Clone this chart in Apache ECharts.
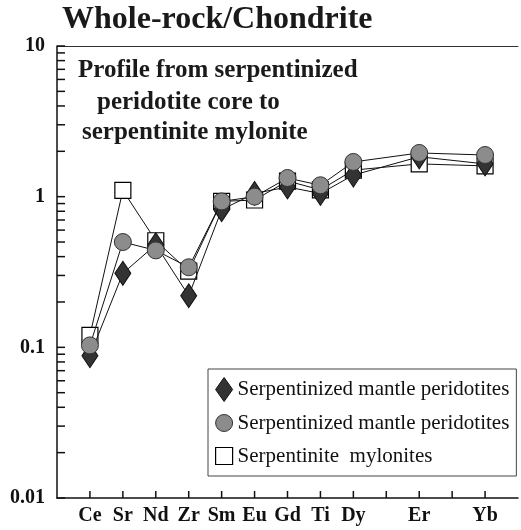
<!DOCTYPE html>
<html>
<head>
<meta charset="utf-8">
<script src="https://cdn.jsdelivr.net/npm/echarts@6/dist/echarts.min.js"></script>
<style>
html,body{margin:0;padding:0;background:#fff;}
#c{width:521px;height:530px;}
</style>
</head>
<body>
<div id="c"></div>
<script>
// Element order on the x axis (Ho and Tm have ticks but no label / no data)
var categories = ['Ce','Sr','Nd','Zr','Sm','Eu','Gd','Ti','Dy','Ho','Er','Tm','Yb'];
var tickLabels = ['Ce','Sr','Nd','Zr','Sm','Eu','Gd','Ti','Dy','','Er','','Yb'];

var nameDiamond = 'Serpentinized mantle peridotites';
var nameCircle  = 'Serpentinized mantle peridotites ';
var nameSquare  = 'Serpentinite  mylonites';

// Chondrite-normalized values (null = no data)
var diamondValues = [0.088, 0.31, 0.48, 0.22, 0.82, 1.05, 1.16, 1.05, 1.39, null, 1.84, null, 1.65];
var circleValues  = [0.103, 0.50, 0.44, 0.34, 0.93, 1.00, 1.33, 1.19, 1.70, null, 1.95, null, 1.89];
var squareValues  = [0.120, 1.10, 0.51, 0.32, 0.93, 0.95, 1.27, 1.11, 1.50, null, 1.65, null, 1.60];

// log-axis tick positions (1..9 within each decade, plus 10)
var yTickValues = [];
[0.01, 0.1, 1].forEach(function (d) {
  for (var k = 1; k <= 9; k++) yTickValues.push(+(d * k).toPrecision(3));
});
yTickValues.push(10);

function toPairs(vals) {
  var out = [];
  vals.forEach(function (v, i) { if (v != null) out.push([i + 1, v]); });
  return out;
}

var axisCats = ['pad0'].concat(categories).concat(['pad1']);
var labelMap = {};
categories.forEach(function (c, i) { labelMap[c] = tickLabels[i]; });

var serif = '"Liberation Serif", "DejaVu Serif", serif';
var tickColor = '#111';

var chart = echarts.init(document.getElementById('c'), null, {renderer: 'canvas'});
chart.setOption({
  animation: false,
  backgroundColor: '#fff',
  grid: {left: 57, top: 46, right: -4, bottom: 32},
  graphic: [
    {type: 'text', left: 62, top: 4, style: {text: 'Whole-rock/Chondrite', font: 'bold 32px ' + serif, fill: '#1a1a1a'}},
    {type: 'text', left: 78, top: 58, style: {text: 'Profile from serpentinized', font: 'bold 25px ' + serif, fill: '#1a1a1a'}},
    {type: 'text', left: 97, top: 90, style: {text: 'peridotite core to', font: 'bold 25px ' + serif, fill: '#1a1a1a'}},
    {type: 'text', left: 82, top: 120, style: {text: 'serpentinite mylonite', font: 'bold 25px ' + serif, fill: '#1a1a1a'}}
  ],
  xAxis: [{
    type: 'category',
    data: axisCats,
    boundaryGap: false,
    axisLine: {show: true, lineStyle: {color: '#111', width: 1.5}},
    axisTick: {show: false},
    axisLabel: {
      interval: 0, margin: 8,
      fontFamily: serif, fontWeight: 'bold', fontSize: 20, color: '#111',
      formatter: function (n) { return labelMap[n] || ''; }
    },
    splitLine: {show: false}
  }, {
    type: 'category',
    position: 'top',
    data: axisCats,
    boundaryGap: false,
    axisLine: {show: true, lineStyle: {color: '#333', width: 1}},
    axisTick: {show: false},
    axisLabel: {show: false},
    splitLine: {show: false}
  }],
  yAxis: {
    type: 'log',
    logBase: 10,
    min: 0.01,
    max: 10,
    axisLine: {show: true, lineStyle: {color: '#111', width: 1.5}},
    axisTick: {show: false},
    axisLabel: {
      margin: 12,
      fontFamily: serif, fontWeight: 'bold', fontSize: 20, color: '#111',
      formatter: function (v) { return String(+(+v).toPrecision(3)); }
    },
    splitLine: {show: false}
  },
  legend: {
    orient: 'vertical',
    left: 208, top: 369,
    padding: [8, 7],
    itemGap: 9,
    itemWidth: 17, itemHeight: 24,
    backgroundColor: '#fff',
    borderColor: '#444', borderWidth: 1,
    selectedMode: false,
    textStyle: {fontFamily: serif, fontSize: 21, color: '#111', lineHeight: 24},
    formatter: function (n) { return n.replace(/\s+$/, ''); },
    data: [
      {name: nameDiamond, icon: 'diamond', itemStyle: {color: '#333', borderColor: '#111', borderWidth: 1}},
      {name: nameCircle, icon: 'circle', itemStyle: {color: '#8c8c8c', borderColor: '#333', borderWidth: 1}},
      {name: nameSquare, icon: 'path://M0,0H10V10H0Z', itemStyle: {color: '#fff', borderColor: '#000', borderWidth: 1.2}}
    ]
  },
  series: [
    {
      name: 'yTicks',
      // y-axis ticks (inward), positioned through the log scale
      type: 'scatter', silent: true, clip: false, z: 10,
      data: yTickValues.map(function (v) { return [0, v]; }),
      symbol: 'rect', symbolSize: [8, 1.5], symbolOffset: [4, 0],
      itemStyle: {color: tickColor, opacity: 1}, emphasis: {disabled: true}
    },
    {
      name: 'xTicks',
      // x-axis ticks (inward) at each element position
      type: 'scatter', silent: true, clip: false, z: 10,
      data: categories.map(function (c, i) { return [i + 1, 0.01]; }),
      symbol: 'rect', symbolSize: [1.5, 7], symbolOffset: [0, -3.5],
      itemStyle: {color: tickColor, opacity: 1}, emphasis: {disabled: true}
    },
    {
      name: nameSquare, type: 'line', data: toPairs(squareValues),
      symbol: 'rect', symbolSize: 16,
      itemStyle: {color: '#fff', borderColor: '#000', borderWidth: 1.2},
      lineStyle: {color: '#111', width: 1},
      emphasis: {disabled: true}, z: 2
    },
    {
      name: nameDiamond, type: 'line', data: toPairs(diamondValues),
      symbol: 'diamond', symbolSize: [16, 24],
      itemStyle: {color: '#333', borderColor: '#111', borderWidth: 1},
      lineStyle: {color: '#111', width: 1},
      emphasis: {disabled: true}, z: 3
    },
    {
      name: nameCircle, type: 'line', data: toPairs(circleValues),
      symbol: 'circle', symbolSize: 17,
      itemStyle: {color: '#8c8c8c', borderColor: '#333', borderWidth: 1},
      lineStyle: {color: '#111', width: 1},
      emphasis: {disabled: true}, z: 4
    }
  ]
});
</script>
</body>
</html>
